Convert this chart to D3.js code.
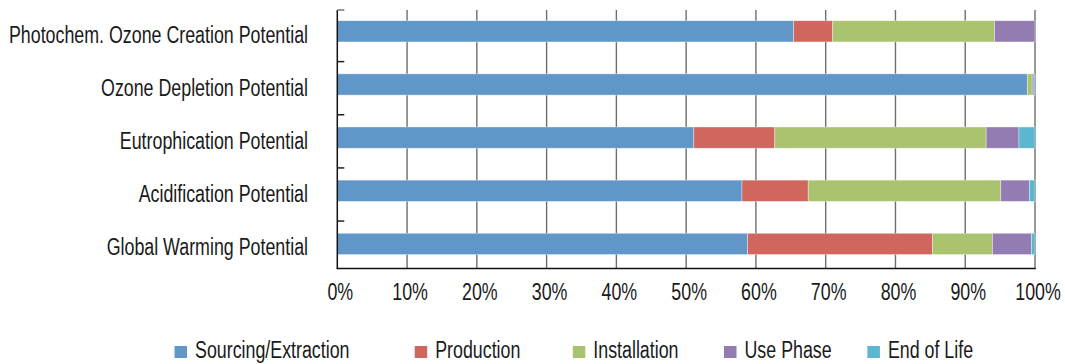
<!DOCTYPE html>
<html>
<head>
<meta charset="utf-8">
<script src="https://cdn.jsdelivr.net/npm/d3@7"></script>
<style>
  html, body { margin: 0; padding: 0; background: #fff; }
  svg { display: block; }
  text { font-family: "Liberation Sans", Arial, sans-serif; fill: #1a1a1a; }
</style>
</head>
<body>
<svg id="chart" width="1065" height="364"></svg>
<script>
// Impact categories, top to bottom
const categories = [
  "Photochem. Ozone Creation Potential",
  "Ozone Depletion Potential",
  "Eutrophication Potential",
  "Acidification Potential",
  "Global Warming Potential"
];

// Life-cycle stages (stack order, left to right)
const stages = ["Sourcing/Extraction", "Production", "Installation", "Use Phase", "End of Life"];

// Share of each impact by stage, in percent (same order as categories)
const sourcing     = [65.4, 98.9, 51.1, 58.0, 58.8];
const production   = [ 5.6,  0.0, 11.6,  9.5, 26.5];
const installation = [23.2,  0.7, 30.3, 27.6,  8.6];
const usePhase     = [ 5.8,  0.25, 4.7,  4.1,  5.6];
const endOfLife    = [ 0.0,  0.15, 2.3,  0.8,  0.5];

const xTicks = [0, 10, 20, 30, 40, 50, 60, 70, 80, 90, 100];
const xTickLabels = xTicks.map(d => d + "%");

const colors = ["#6097c8", "#cf675f", "#aac36e", "#937cb2", "#5ab7cf"];

// Rows for the stack layout
const rows = categories.map((c, i) => ({
  category: c,
  "Sourcing/Extraction": sourcing[i],
  "Production": production[i],
  "Installation": installation[i],
  "Use Phase": usePhase[i],
  "End of Life": endOfLife[i]
}));

const svg = d3.select("#chart");

// Condensed lettering: glyphs are squeezed horizontally around their anchor
const fontSize = 23;
const condense = 0.775;
const place = (px, py) => `translate(${px},${py}) scale(${condense},1)`;

const plotTop = 10, plotBottom = 268.5;
const x = d3.scaleLinear().domain([0, 100]).range([337.3, 1035]);
const y = d3.scaleBand().domain(categories).range([4.75, 270.5])
  .paddingInner(0.6).paddingOuter(0.3);
const color = d3.scaleOrdinal().domain(stages).range(colors);

// Vertical gridlines
svg.append("g")
  .selectAll("line")
  .data(xTicks.slice(1))
  .join("line")
  .attr("x1", d => x(d)).attr("x2", d => x(d))
  .attr("y1", plotTop).attr("y2", plotBottom)
  .attr("stroke", "#6e6e6e").attr("stroke-width", 1.4);

// Stacked bars
const series = d3.stack().keys(stages)(rows);
svg.append("g")
  .selectAll("g")
  .data(series)
  .join("g")
  .attr("fill", d => color(d.key))
  .selectAll("rect")
  .data(d => d)
  .join("rect")
  .attr("x", d => x(d[0]))
  .attr("y", d => y(d.data.category))
  .attr("width", d => Math.max(0, x(d[1]) - x(d[0])))
  .attr("height", y.bandwidth())
  .attr("stroke", "rgba(255,255,255,0.45)")
  .attr("stroke-width", 0.8);

// Left axis line with inward category ticks
const yAxis = svg.append("g");
yAxis.append("line")
  .attr("x1", x(0)).attr("x2", x(0))
  .attr("y1", plotTop).attr("y2", plotBottom)
  .attr("stroke", "#111").attr("stroke-width", 1.5);
yAxis.append("line")
  .attr("x1", x(0)).attr("x2", x(0) + 7)
  .attr("y1", plotTop).attr("y2", plotTop)
  .attr("stroke", "#777").attr("stroke-width", 1.5);
yAxis.selectAll("line.tick")
  .data(categories.slice(1))
  .join("line")
  .attr("class", "tick")
  .attr("x1", x(0)).attr("x2", x(0) + 7)
  .attr("y1", d => y(d) - y.step() * 0.23)
  .attr("y2", d => y(d) - y.step() * 0.23)
  .attr("stroke", "#222").attr("stroke-width", 1.5);

// Category labels
svg.append("g")
  .selectAll("text")
  .data(categories)
  .join("text")
  .attr("transform", d => place(308, y(d) + y.bandwidth() / 2 + 11.5))
  .attr("text-anchor", "end")
  .attr("font-size", fontSize)
  .text(d => d);

// Bottom axis line
svg.append("line")
  .attr("x1", x(0) - 0.75).attr("x2", x(100) + 0.75)
  .attr("y1", plotBottom).attr("y2", plotBottom)
  .attr("stroke", "#111").attr("stroke-width", 1.5);

// Percent tick labels
svg.append("g")
  .selectAll("text")
  .data(xTicks)
  .join("text")
  .attr("transform", d => place(x(d) + 3, 300))
  .attr("text-anchor", "middle")
  .attr("font-size", fontSize)
  .text((d, i) => xTickLabels[i]);

// Legend
const legendX = [174.5, 414.7, 572.8, 724, 867.4];
const legend = svg.append("g")
  .selectAll("g")
  .data(stages)
  .join("g")
  .attr("transform", (d, i) => `translate(${legendX[i]},346)`);
legend.append("rect")
  .attr("width", 12.5).attr("height", 12)
  .attr("fill", d => color(d));
legend.append("text")
  .attr("transform", place(20.5, 12))
  .attr("font-size", fontSize)
  .text(d => d);
</script>
</body>
</html>
